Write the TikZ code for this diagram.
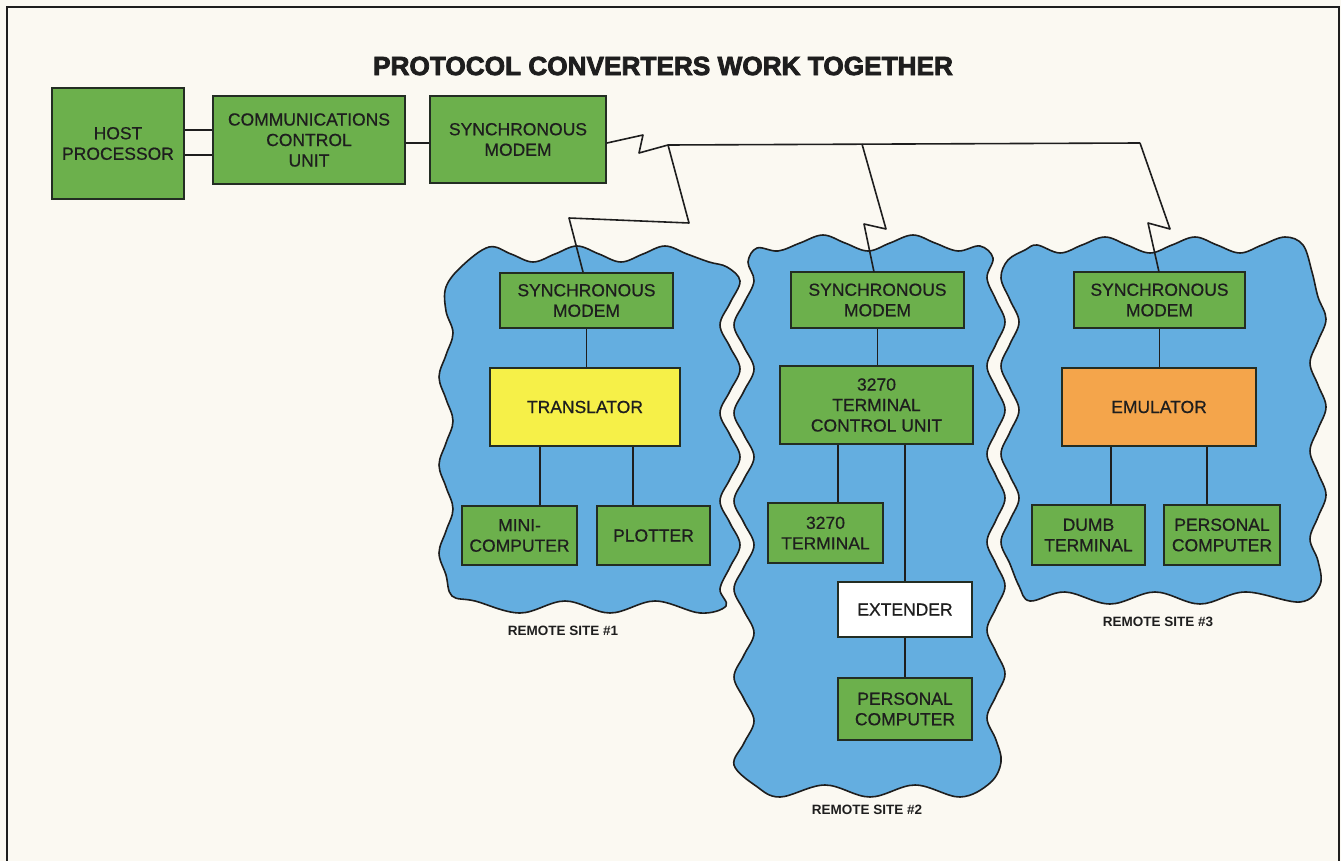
\documentclass[tikz,border=0pt]{standalone}
\usepackage{fontspec}
\setmainfont{Liberation Sans}
\newfontfamily\boxfont[FakeBold=0.6]{Liberation Sans}
\newfontfamily\titlefont[BoldFeatures={FakeBold=3}]{Liberation Sans}
\usetikzlibrary{calc}
\definecolor{bg}{RGB}{251,249,242}
\definecolor{blobblue}{RGB}{100,174,224}
\definecolor{boxgreen}{RGB}{108,176,76}
\definecolor{boxedge}{RGB}{35,45,35}
\definecolor{ylw}{RGB}{246,240,72}
\definecolor{orng}{RGB}{244,165,75}
\definecolor{ink}{RGB}{30,30,30}
\begin{document}
\begin{tikzpicture}[x=1pt,y=-1pt,
  blk/.style={draw=boxedge, line width=1.9pt, fill=boxgreen, align=center, inner sep=0pt,
    text=ink, font=\boxfont\fontsize{17.5}{20.5}\selectfont},
  wire/.style={draw=ink, line width=1.6pt, line join=round},
  blob/.style={fill=blobblue, draw=ink, line width=1.6pt},
  sitelbl/.style={text=ink, font=\fontsize{13.5}{16}\selectfont\bfseries}]
\useasboundingbox (0,0) rectangle (1341,861);
\fill[bg] (0,0) rectangle (1341,861);
\draw[ink, line width=2pt] (7,861) -- (7,7) -- (1339,7) -- (1339,861);

% title
\node[text=ink, font=\titlefont\fontsize{26.2}{29}\selectfont\bfseries] (title) at (663,66) {PROTOCOL CONVERTERS WORK TOGETHER};

% blobs
\path[blob] plot[smooth cycle, tension=0.6] coordinates {
(462,266) (489,247) (511,254) (533,262) (555,254) (577,246) (599,254) (621,262) (643,254) (665,246) (687,254) (709,262) (727,267)
(740,281) (730,303) (720,325) (730,347) (740,369) (730,391) (720,413) (730,435) (740,457) (730,479) (720,501) (730,523) (740,545) (730,567) (720,589) (726,606)
(700,613) (655,601) (610,613) (565,601) (520,613) (475,601) (452,596)
(446,575) (439,553) (446,531) (453,509) (446,487) (439,465) (446,443) (453,421) (446,399) (439,377) (446,355) (453,333) (446,311) (446,287)};
\path[blob] plot[smooth cycle, tension=0.6] coordinates {
(757,248) (778,251) (800,243) (823,235) (845,243) (868,251) (890,243) (913,235) (935,243) (958,251) (980,246)
(993,258) (987,278) (996,300) (1005,322) (996,344) (987,366) (996,388) (1005,410) (996,432) (987,454) (996,476) (1005,498) (996,520) (987,542) (996,564) (1005,586) (996,608) (987,630) (996,652) (1005,674) (996,696) (987,718) (996,740) (1001,762) (990,783)
(960,797) (915,785) (870,797) (825,785) (780,797) (756,786)
(734,765) (744,743) (754,721) (744,699) (734,677) (744,655) (754,633) (744,611) (734,589) (744,567) (754,545) (744,523) (734,501) (744,479) (754,457) (744,435) (734,413) (744,391) (754,369) (744,347) (734,325) (744,303) (754,281) (748,262)};
\path[blob] plot[smooth cycle, tension=0.6] coordinates {
(1025,250) (1037,245) (1060,253) (1082,245) (1105,237) (1127,245) (1150,253) (1172,245) (1195,237) (1217,245) (1240,253) (1262,245) (1285,237) (1303,245)
(1312,272) (1318,297) (1326,319) (1318,341) (1310,363) (1318,385) (1326,407) (1318,429) (1310,451) (1318,473) (1326,495) (1318,517) (1310,539) (1318,561) (1320,585)
(1300,602) (1245,592) (1200,604) (1155,592) (1110,604) (1065,592) (1030,601)
(1019,586) (1010,564) (1001,542) (1010,520) (1019,498) (1010,476) (1001,454) (1010,432) (1019,410) (1010,388) (1001,366) (1010,344) (1019,322) (1010,300) (1001,278) (1008,260)};

% top row
\node[blk, minimum width=132pt, minimum height=111pt] (host) at (118,143.5) {HOST\\PROCESSOR};
\node[blk, minimum width=192pt, minimum height=88pt] (ccu) at (309,140) {COMMUNICATIONS\\CONTROL\\UNIT};
\node[blk, minimum width=176pt, minimum height=87pt] (modem0) at (518,139.5) {SYNCHRONOUS\\MODEM};

% site 1
\node[blk, minimum width=173pt, minimum height=55pt] (m1) at (586.5,300.5) {SYNCHRONOUS\\MODEM};
\node[blk, fill=ylw, minimum width=190pt, minimum height=78pt] (trans) at (585,407) {TRANSLATOR};
\node[blk, minimum width=115pt, minimum height=59pt] (mini) at (519.5,535.5) {MINI-\\COMPUTER};
\node[blk, minimum width=113pt, minimum height=59pt] (plot) at (653.5,535.5) {PLOTTER};

% site 2
\node[blk, minimum width=173pt, minimum height=56pt] (m2) at (877.5,300) {SYNCHRONOUS\\MODEM};
\node[blk, minimum width=193pt, minimum height=78pt] (tcu) at (876.5,405) {3270\\TERMINAL\\CONTROL UNIT};
\node[blk, minimum width=115pt, minimum height=60pt] (t3270) at (825.5,533) {3270\\TERMINAL};
\node[blk, fill=white, minimum width=134pt, minimum height=55pt] (ext) at (905,609.5) {EXTENDER};
\node[blk, minimum width=134pt, minimum height=62pt] (pc2) at (905,709) {PERSONAL\\COMPUTER};

% site 3
\node[blk, minimum width=171pt, minimum height=56pt] (m3) at (1159.5,300) {SYNCHRONOUS\\MODEM};
\node[blk, fill=orng, minimum width=194pt, minimum height=78pt] (emu) at (1159,407) {EMULATOR};
\node[blk, minimum width=113pt, minimum height=60pt] (dumb) at (1088.5,535) {DUMB\\TERMINAL};
\node[blk, minimum width=116pt, minimum height=60pt] (pc3) at (1222,535) {PERSONAL\\COMPUTER};

% labels
\node[sitelbl] (s1) at (563,631) {REMOTE SITE \#1};
\node[sitelbl] (s2) at (867,810) {REMOTE SITE \#2};
\node[sitelbl] (s3) at (1158,622) {REMOTE SITE \#3};

% helper coordinates
\coordinate (ya) at (0,130);
\coordinate (yb) at (0,155);
\coordinate (yc) at (0,143);
\coordinate (j0) at (668,145);
\coordinate (j2) at (862,144);
\coordinate (j3) at (1140,143);
\coordinate (xa) at (540,0);
\coordinate (xb) at (633,0);
\coordinate (xc) at (838,0);
\coordinate (xd) at (905,0);
\coordinate (xe) at (1111,0);
\coordinate (xf) at (1207,0);

% top connectors
\draw[wire] (host.east |- ya) -- (ccu.west |- ya);
\draw[wire] (host.east |- yb) -- (ccu.west |- yb);
\draw[wire] (ccu.east |- yc) -- (modem0.west |- yc);
\draw[wire] (modem0.east |- yc) -- (643,135) -- (639,153) -- (j0) -- (j3);
\draw[wire] (j0) -- (689,223) -- (569,218) -- (583,272);
\draw[wire] (j2) -- (886,229) -- (864,224) -- (874,272);
\draw[wire] (j3) -- (1170,229) -- (1148,223) -- (1159,272);

% site connectors
\draw[wire] (m1.south) -- (m1.south |- trans.north);
\draw[wire] (xa |- trans.south) -- (xa |- mini.north);
\draw[wire] (xb |- trans.south) -- (xb |- plot.north);
\draw[wire] (m2.south) -- (m2.south |- tcu.north);
\draw[wire] (xc |- tcu.south) -- (xc |- t3270.north);
\draw[wire] (xd |- tcu.south) -- (xd |- ext.north);
\draw[wire] (ext.south) -- (pc2.north);
\draw[wire] (m3.south) -- (m3.south |- emu.north);
\draw[wire] (xe |- emu.south) -- (xe |- dumb.north);
\draw[wire] (xf |- emu.south) -- (xf |- pc3.north);
\end{tikzpicture}
\end{document}
